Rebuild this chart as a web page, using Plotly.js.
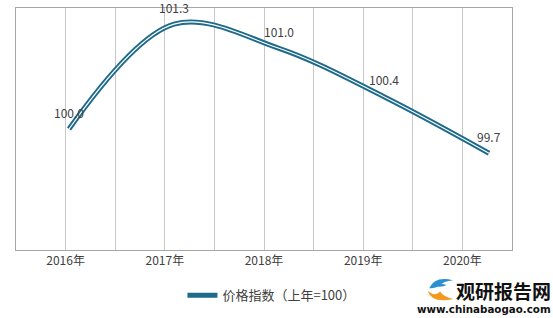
<!DOCTYPE html>
<html>
<head>
<meta charset="utf-8">
<script src="https://cdn.plot.ly/plotly-3.0.1.min.js"></script>
<style>html,body{margin:0;padding:0;background:#fff;}#chart{width:553px;height:318px;}</style>
</head>
<body>
<div id="chart"></div>
<script>
const categories = ['2016年', '2017年', '2018年', '2019年', '2020年'];
const values = [100.0, 101.3, 101.0, 100.4, 99.7];
const labels = ['100.0', '101.3', '101.0', '100.4', '99.7'];
const seriesName = '价格指数（上年=100）';

const xs = categories.map((c, i) => i);
const font = '"Noto Sans CJK SC", "Noto Sans", sans-serif';

const traces = [
  {
    x: xs, y: values, type: 'scatter', mode: 'lines', name: seriesName,
    xaxis: 'x2', yaxis: 'y',
    line: {color: '#1d6a8a', width: 5, shape: 'spline', smoothing: 1},
    showlegend: true, hoverinfo: 'skip'
  },
  {
    x: xs, y: values, type: 'scatter', mode: 'lines', name: seriesName,
    xaxis: 'x2', yaxis: 'y',
    line: {color: '#ffffff', width: 1.1, shape: 'spline', smoothing: 1},
    showlegend: false, hoverinfo: 'skip'
  },
  {
    x: xs, y: values, type: 'scatter', mode: 'none', xaxis: 'x', yaxis: 'y',
    showlegend: false, hoverinfo: 'skip'
  }
];

const labelAnnotations = xs.map((x, i) => ({
  xref: 'x2', yref: 'y', x: x, y: values[i], text: labels[i],
  showarrow: false, yshift: 17, xanchor: 'center', yanchor: 'middle',
  font: {family: font, size: 12, color: '#404040'}
}));

const layout = {
  width: 553, height: 318,
  margin: {l: 16, r: 41, t: 8, b: 65},
  paper_bgcolor: '#ffffff', plot_bgcolor: '#ffffff',
  font: {family: font, size: 12, color: '#404040'},
  xaxis: {
    type: 'linear', range: [-0.5, 4.5],
    tickvals: xs, ticktext: categories,
    showgrid: true, gridcolor: '#c8c8c8', gridwidth: 1,
    minor: {tick0: -0.5, dtick: 1, showgrid: true, gridcolor: '#c8c8c8', gridwidth: 1, ticks: ''},
    showline: true, linecolor: '#a6a6a6', linewidth: 1, mirror: true,
    ticks: '', zeroline: false,
    tickfont: {family: font, size: 12, color: '#404040'}
  },
  xaxis2: {
    overlaying: 'x', range: [-0.505, 4.219], visible: false
  },
  yaxis: {
    range: [98.5, 101.5], showgrid: false, showticklabels: false,
    showline: true, linecolor: '#a6a6a6', linewidth: 1, mirror: true,
    ticks: '', zeroline: false
  },
  showlegend: true,
  legend: {
    orientation: 'h', x: 0.515, xanchor: 'center', y: -0.125, yanchor: 'top',
    font: {family: font, size: 13, color: '#404040'}, bgcolor: 'rgba(0,0,0,0)'
  },
  annotations: labelAnnotations.concat([
    {xref: 'paper', yref: 'paper', x: 1.0806, y: -0.167, xanchor: 'right', yanchor: 'middle',
     text: '<b>观研报告网</b>', showarrow: false, borderpad: 0,
     font: {family: font, size: 19, color: '#111111'}},
    {xref: 'paper', yref: 'paper', x: 1.0806, y: -0.245, xanchor: 'right', yanchor: 'middle',
     text: '<b>www.chinabaogao.com</b>', showarrow: false, borderpad: 0,
     font: {family: '"DejaVu Sans", sans-serif', size: 10.3, color: '#111111'}}
  ]),
  shapes: [
    {type: 'path', xref: 'paper', yref: 'paper', layer: 'above',
     path: 'M 0.833 -0.158 Q 0.845 -0.105 0.881 -0.125 Q 0.862 -0.128 0.852 -0.150 Q 0.843 -0.160 0.833 -0.158 Z',
     fillcolor: '#2a8fd0', line: {width: 0}},
    {type: 'path', xref: 'paper', yref: 'paper', layer: 'above',
     path: 'M 0.845 -0.150 Q 0.855 -0.135 0.868 -0.145 Q 0.860 -0.155 0.845 -0.150 Z',
     fillcolor: '#2a8fd0', line: {width: 0}},
    {type: 'path', xref: 'paper', yref: 'paper', layer: 'above',
     path: 'M 0.830 -0.168 Q 0.838 -0.222 0.882 -0.202 Q 0.862 -0.195 0.855 -0.172 Q 0.850 -0.185 0.840 -0.182 Q 0.835 -0.175 0.830 -0.168 Z',
     fillcolor: '#f39a1e', line: {width: 0}}
  ]
};

Plotly.newPlot('chart', traces, layout, {displayModeBar: false, staticPlot: true});
</script>
</body>
</html>
